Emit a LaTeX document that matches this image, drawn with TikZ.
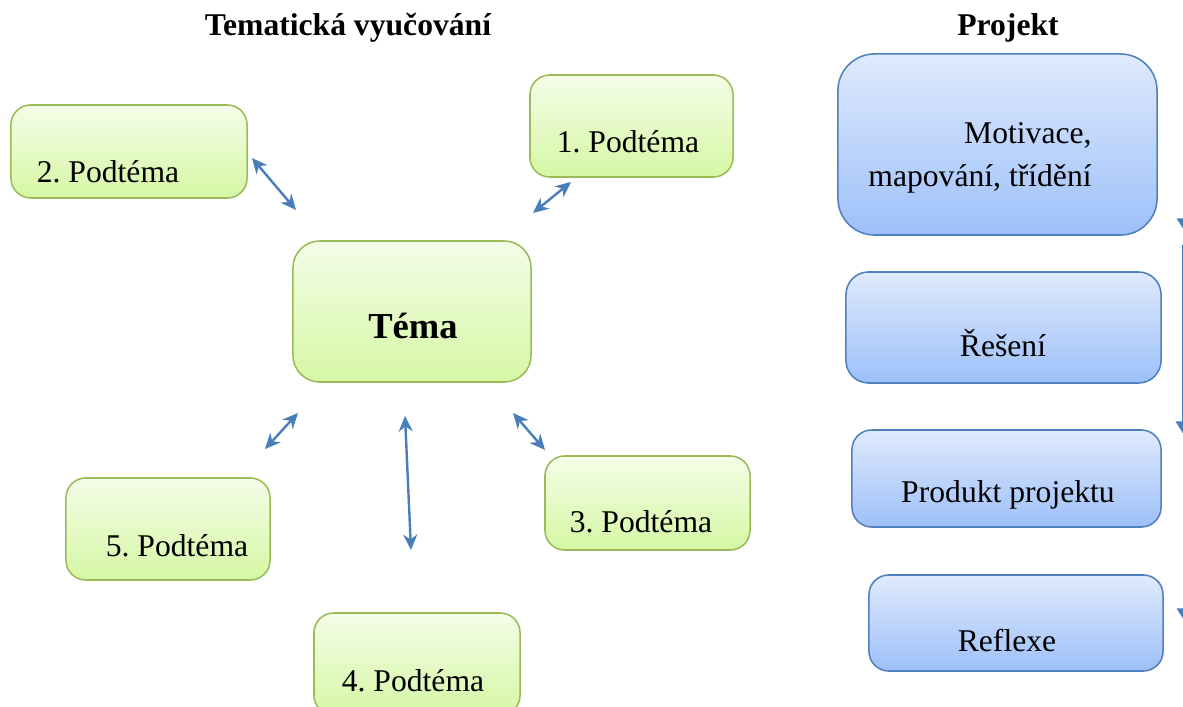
\documentclass[tikz,border=0pt]{standalone}
\usepackage{fontspec}
\setmainfont{Liberation Serif}
\usetikzlibrary{calc, arrows.meta}
\definecolor{leafline}{HTML}{9BBB59}
\definecolor{leaftop}{HTML}{F4FDE8}
\definecolor{leafbot}{HTML}{D5F7A4}
\definecolor{skyline}{HTML}{4F81BD}
\definecolor{skytop}{HTML}{DFEAFD}
\definecolor{skybot}{HTML}{9DC0F9}
\definecolor{arrowblue}{HTML}{4A7EBB}
\frenchspacing
\tikzset{
  font=\fontsize{22.5}{30.5}\selectfont,
  % Headings
  title/.style={font=\fontsize{22.5}{27}\selectfont\bfseries},
  % Topic box
  tbox/.style={draw=leafline, line width=1.1pt, top color=leaftop,
    bottom color=leafbot, rounded corners=14pt, inner sep=0pt},
  % Project step box
  pbox/.style={draw=skyline, line width=1.1pt, top color=skytop,
    bottom color=skybot, rounded corners=16pt, inner sep=0pt},
  % Double-headed connector
  link/.style={arrowblue, line width=1.7pt,
    {Stealth[length=11pt,width=10pt,inset=3.5pt]}-{Stealth[length=11pt,width=10pt,inset=3.5pt]}},
  % Step arrow
  flow/.style={arrowblue, line width=1.4pt, -{Triangle[length=9pt,width=11pt]}},
}

\begin{document}
\begin{tikzpicture}[x=0.025cm, y=-0.025cm]
  \useasboundingbox (0,0) rectangle (1183,707);
  \clip (0,0) rectangle (1183,707);

  \node[title] (ttema) at (348,28) {Tematická vyučování};
  \node[title] (tproj) at (1008,28) {Projekt};

  % Topic and subtopics
  \node[tbox, minimum width=5.95cm, minimum height=3.525cm, rounded corners=19pt]
    (tema) at (412,311.5) {};
  \node[font=\fontsize{26}{30}\selectfont\bfseries] (xtema) at (413,326) {Téma};

  \node[tbox, minimum width=5.9cm, minimum height=2.325cm] (sub2) at (129,151.5) {};
  \node (x2) at (108,172) {2. Podtéma};
  \node[tbox, minimum width=5.075cm, minimum height=2.55cm] (sub1) at (631.5,126) {};
  \node (x1) at (628,142) {1. Podtéma};
  \node[tbox, minimum width=5.1cm, minimum height=2.55cm] (sub5) at (168,529) {};
  \node (x5) at (177,546) {5. Podtéma};
  \node[tbox, minimum width=5.125cm, minimum height=2.35cm] (sub3) at (647.5,503) {};
  \node (x3) at (641,522) {3. Podtéma};
  \node[tbox, minimum width=5.15cm, minimum height=2.55cm] (sub4) at (417,664) {};
  \node (x4) at (413,681) {4. Podtéma};

  \coordinate (a2) at (252,158); \coordinate (b2) at (296,210);
  \coordinate (a1) at (571,182); \coordinate (b1) at (533,213);
  \coordinate (a5) at (265,449); \coordinate (b5) at (298,413);
  \coordinate (a4) at (411,550); \coordinate (b4) at (405,416);
  \coordinate (a3) at (545,450); \coordinate (b3) at (513,413);
  \draw[link] (a2) -- (b2);
  \draw[link] (a1) -- (b1);
  \draw[link] (a5) -- (b5);
  \draw[link] (a4) -- (b4);
  \draw[link] (a3) -- (b3);

  % Project steps
  \node[pbox, minimum width=7.975cm, minimum height=4.525cm, rounded corners=26pt]
    (motiv) at (997.5,144.5) {};
  \node[align=right] (xmotiv) at (980,158) {Motivace,\\mapování, třídění};
  \node[pbox, minimum width=7.875cm, minimum height=2.775cm] (reseni) at (1003.5,327.5) {};
  \node (xreseni) at (1003,343) {Řešení};
  \node[pbox, minimum width=7.725cm, minimum height=2.425cm, rounded corners=14pt]
    (produkt) at (1006.5,478.5) {};
  \node (xprodukt) at (1008,495) {Produkt projektu};
  \node[pbox, minimum width=7.35cm, minimum height=2.4cm, rounded corners=14pt]
    (reflexe) at (1016,623) {};
  \node (xreflexe) at (1007,641) {Reflexe};

  \coordinate (f1a) at (1184.5,180); \coordinate (f1b) at (1184.5,231);
  \coordinate (f2a) at (1183.4,245); \coordinate (f2b) at (1183.4,434);
  \coordinate (f3a) at (1184.5,560); \coordinate (f3b) at (1184.5,621);
  \draw[flow] (f1a) -- (f1b);
  \draw[flow] (f2a) -- (f2b);
  \draw[flow] (f3a) -- (f3b);
\end{tikzpicture}
\end{document}
